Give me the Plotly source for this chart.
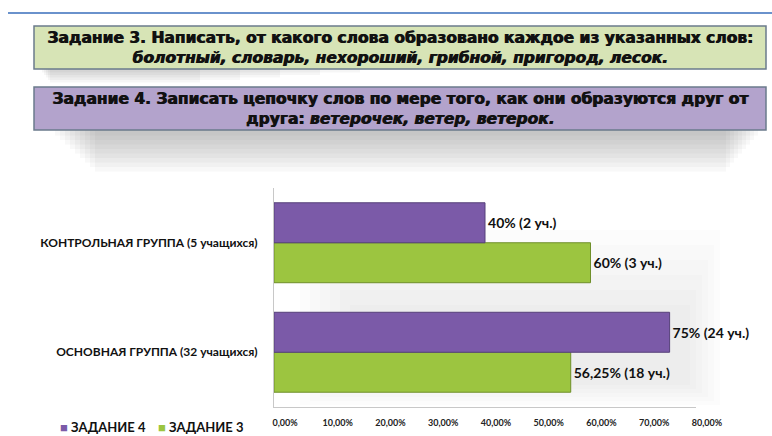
import plotly.graph_objects as go

W, H = 772, 436

categories = ["ОСНОВНАЯ ГРУППА (32 учащихся)", "КОНТРОЛЬНАЯ ГРУППА (5 учащихся)"]
task3_values = [0.5625, 0.60]
task4_values = [0.75, 0.40]
task3_labels = ["56,25% (18 уч.)", "60% (3 уч.)"]
task4_labels = ["75% (24 уч.)", "40% (2 уч.)"]
series_names = ["ЗАДАНИЕ 3", "ЗАДАНИЕ 4"]
tick_vals = [0, 0.1, 0.2, 0.3, 0.4, 0.5, 0.6, 0.7, 0.8]
tick_text = ["0,00%", "10,00%", "20,00%", "30,00%", "40,00%", "50,00%", "60,00%", "70,00%", "80,00%"]

box3_text = ("<b>Задание 3. Написать, от какого слова образовано каждое из указанных слов:</b><br>"
             "<b><i>болотный, словарь, нехороший, грибной, пригород, лесок.</i></b>")
box4_text = ("<b>Задание 4. Записать цепочку слов по мере того, как они образуются друг от</b><br>"
             "<b>друга: <i>ветерочек, ветер, ветерок.</i></b>")

GREEN = "#9cc540"
PURPLE = "#7b5aa8"
COLORS = [GREEN, PURPLE]


def px(x):
    return x / W


def py(y):
    return 1 - y / H


fig = go.Figure()
fig.add_trace(go.Bar(
    y=categories, x=task3_values, orientation="h", name=series_names[0],
    marker=dict(color=GREEN, line=dict(color="#6f8f2a", width=1)),
    text=task3_labels, textposition="outside", cliponaxis=False,
    textfont=dict(family="Lato", size=14, color="#111111", weight="bold"),
    showlegend=False,
))
fig.add_trace(go.Bar(
    y=categories, x=task4_values, orientation="h", name=series_names[1],
    marker=dict(color=PURPLE, line=dict(color="#56407a", width=1)),
    text=task4_labels, textposition="outside", cliponaxis=False,
    textfont=dict(family="Lato", size=14, color="#111111", weight="bold"),
    showlegend=False,
))

shapes = []
# top blue rule
shapes.append(dict(type="line", xref="paper", yref="paper", x0=px(8), x1=1, y0=py(13), y1=py(13),
                   line=dict(color="#6a92cc", width=2)))
# shadow under purple box
for i in range(10):
    shapes.append(dict(type="rect", xref="paper", yref="paper",
                       x0=px(50 + i * 5), x1=px(762 - i * 4), y0=py(131 + 4.5 * i), y1=py(128),
                       fillcolor="rgba(80,80,80,0.04)", line=dict(width=0), layer="below"))
# shadow between boxes (left side)
for i in range(6):
    shapes.append(dict(type="rect", xref="paper", yref="paper",
                       x0=px(40 + i * 2), x1=px(400 - i * 40), y0=py(70 + 2.5 * i), y1=py(66),
                       fillcolor="rgba(80,80,80,0.05)", line=dict(width=0), layer="below"))
# boxes
shapes.append(dict(type="rect", xref="paper", yref="paper", x0=px(34), x1=px(766), y0=py(69), y1=py(26),
                   fillcolor="#d7e4b6", line=dict(color="#6b7b8c", width=1.5)))
shapes.append(dict(type="rect", xref="paper", yref="paper", x0=px(34), x1=px(766), y0=py(130), y1=py(87),
                   fillcolor="#b3a3cc", line=dict(color="#6b7b8c", width=1.5)))
# soft chart shadow
for i in range(6):
    shapes.append(dict(type="rect", xref="paper", yref="paper",
                       x0=px(300 + i * 10), x1=px(720 - i * 6), y0=py(405 - i * 4), y1=py(230 + i * 15),
                       fillcolor="rgba(120,120,120,0.025)", line=dict(width=0), layer="below"))

box_font = dict(family="DejaVu Sans", size=15.5, color="#111111", shadow="0.9px 0 0 #111111")
annotations = [
    dict(text=box3_text, xref="paper", yref="paper", x=px(400), y=py(47.5), showarrow=False,
         xanchor="center", yanchor="middle", align="center", font=box_font),
    dict(text=box4_text, xref="paper", yref="paper", x=px(400), y=py(108.5), showarrow=False,
         xanchor="center", yanchor="middle", align="center", font=box_font),
]

# legend drawn as text items (order: ЗАДАНИЕ 4, ЗАДАНИЕ 3)
legend_x = [58, 156]
for name, color, lx in zip(series_names[::-1], COLORS[::-1], legend_x):
    annotations.append(dict(
        text=f"<span style='color:{color}'>■</span> {name}", xref="paper", yref="paper",
        x=px(lx), y=py(427), xanchor="left", yanchor="middle", showarrow=False,
        font=dict(family="Lato", size=13, color="#111111", weight="bold")))

fig.update_layout(
    width=W, height=H,
    margin=dict(l=0, r=0, t=0, b=0, autoexpand=False),
    paper_bgcolor="white", plot_bgcolor="rgba(0,0,0,0)",
    barmode="group", bargap=0.27, bargroupgap=0,
    shapes=shapes, annotations=annotations,
    showlegend=False,
    xaxis=dict(domain=[px(274), px(696)], range=[0, 0.8], tickvals=tick_vals, ticktext=tick_text,
               showgrid=False, zeroline=False, showline=True, linecolor="#c8c8c8", linewidth=1,
               ticks="", tickfont=dict(family="Lato", size=9, color="#222222", weight="bold"),
               ticklabelshift=11, ticklabelstandoff=7, fixedrange=True, automargin=False),
    yaxis=dict(domain=[py(407), py(188)], categoryorder="array", categoryarray=categories,
               showgrid=False, zeroline=False, showline=True, linecolor="#c8c8c8", linewidth=1,
               ticks="", tickfont=dict(family="Lato", size=12, color="#111111", weight="bold"),
               ticklabelstandoff=13, fixedrange=True, automargin=False),
)

fig.write_html("out.html")
